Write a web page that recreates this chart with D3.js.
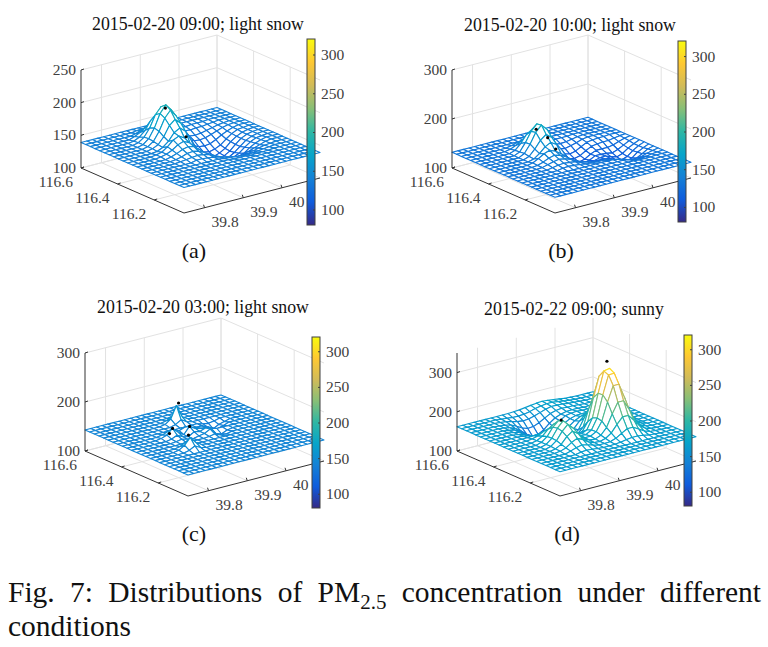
<!DOCTYPE html>
<html>
<head>
<meta charset="utf-8">
<script src="https://cdn.jsdelivr.net/npm/d3@7"></script>
<style>
  body { margin: 0; background: #fff; }
  svg { display: block; }
  text { font-family: "Liberation Serif", serif; }
</style>
</head>
<body>
<div id="chart"></div>
<script>
// grid size of every surface, rows run along longitude, columns along latitude
const gridRows = 23;
const gridCols = 25;

const parula = ["#352a87", "#0f5cdd", "#1481d6", "#06a4ca", "#2eb7a4", "#87bf77", "#d1bb59", "#fec832", "#f9fb0e"];
const colorTicks = [100, 150, 200, 250, 300];
const lonTicks = [116.6, 116.4, 116.2];
const latTicks = [39.8, 39.9, 40];

const titles = ["2015-02-20 09:00; light snow", "2015-02-20 10:00; light snow", "2015-02-20 03:00; light snow", "2015-02-22 09:00; sunny"];
const subLabels = ["(a)", "(b)", "(c)", "(d)"];
const zTicks = [[100, 150, 200, 250], [100, 200, 300], [100, 200, 300], [100, 200, 300]];
const zTops = [250, 300, 300, 350];
const surfaceBases = [139, 132, 143, 162];

// surface values that differ from the base: [row, first column, values]
const surfaceA = [
  [1, 9, [140, 141, 140]],
  [2, 8, [141, 144, 145, 144, 141]],
  [3, 7, [142, 146, 152, 155, 152, 145, 140, 138, 138, 137, 138, 138, 138, 139]],
  [4, 6, [140, 144, 152, 165, 171, 165, 151, 141, 136, 136, 135, 136, 136, 137, 138]],
  [5, 6, [141, 147, 159, 177, 187, 178, 157, 142, 133, 131, 130, 131, 133, 135, 137, 138]],
  [6, 6, [141, 148, 162, 182, 193, 183, 159, 140, 130, 127, 126, 127, 130, 133, 136, 138]],
  [7, 6, [141, 147, 160, 178, 188, 177, 156, 136, 125, 121, 120, 121, 125, 130, 134, 137]],
  [8, 6, [141, 145, 155, 170, 177, 169, 149, 132, 120, 116, 114, 116, 120, 127, 133, 137, 138]],
  [9, 6, [140, 144, 151, 162, 167, 160, 144, 129, 118, 113, 110, 113, 118, 126, 132, 136, 138]],
  [10, 5, [140, 142, 148, 156, 160, 155, 144, 133, 125, 117, 111, 109, 112, 117, 125, 132, 136, 138]],
  [11, 5, [140, 142, 146, 152, 155, 151, 142, 133, 125, 118, 113, 110, 113, 118, 125, 132, 136, 138]],
  [12, 6, [141, 144, 148, 150, 148, 141, 133, 127, 120, 116, 114, 116, 120, 127, 133, 137, 138]],
  [13, 6, [140, 142, 145, 146, 144, 140, 135, 129, 123, 120, 119, 120, 123, 129, 134, 137]],
  [14, 6, [140, 141, 142, 143, 142, 140, 136, 132, 129, 126, 125, 126, 129, 132, 135, 138]],
  [15, 8, [141, 141, 140, 139, 137, 135, 133, 131, 130, 131, 133, 135, 137, 138]],
  [16, 12, [138, 137, 136, 135, 134, 135, 136, 137, 138]],
  [17, 13, [138, 138, 138, 137, 138, 138, 138]]
];
const surfaceB = [
  [3, 8, [134, 137, 138, 137, 134]],
  [4, 7, [134, 139, 146, 150, 146, 139, 133, 131, 131, 131, 131]],
  [5, 7, [136, 147, 162, 170, 162, 146, 134, 127, 126, 127, 129, 131]],
  [6, 7, [137, 153, 173, 185, 174, 152, 132, 123, 120, 123, 126, 130]],
  [7, 7, [138, 154, 175, 187, 175, 150, 129, 116, 113, 116, 122, 128, 130, 131, 131]],
  [8, 7, [136, 148, 163, 172, 163, 144, 124, 111, 108, 111, 118, 124, 126, 127, 127, 129, 131]],
  [9, 7, [135, 143, 154, 160, 153, 138, 120, 109, 105, 108, 115, 120, 120, 120, 122, 126, 130]],
  [10, 6, [134, 140, 147, 151, 146, 138, 127, 117, 110, 107, 110, 116, 116, 115, 113, 117, 123, 129]],
  [11, 6, [133, 137, 142, 145, 142, 136, 128, 120, 114, 111, 113, 116, 117, 112, 109, 113, 121, 127]],
  [12, 6, [133, 136, 139, 141, 139, 135, 129, 124, 119, 117, 118, 119, 116, 110, 107, 111, 120, 127]],
  [13, 7, [134, 136, 137, 136, 134, 130, 128, 125, 123, 123, 121, 116, 111, 108, 112, 121, 127]],
  [14, 8, [134, 135, 134, 133, 131, 130, 129, 129, 127, 125, 121, 116, 113, 116, 122, 129]],
  [15, 17, [130, 127, 123, 121, 123, 127, 130]],
  [16, 18, [130, 128, 127, 128, 130, 131]],
  [17, 19, [131, 131, 131]]
];
const surfaceC = [
  [4, 11, [145, 151, 146]],
  [5, 10, [145, 153, 178, 152, 145]],
  [6, 11, [146, 153, 146]],
  [7, 15, [140, 138, 140]],
  [8, 7, [145, 149, 145, 145, 149, 145]],
  [8, 15, [138, 131, 137, 140]],
  [9, 6, [145, 149, 160, 149, 141, 155, 148, 145]],
  [9, 15, [140, 136, 139]],
  [10, 7, [145, 150, 144, 141, 148, 146, 150, 146]],
  [11, 7, [144, 146, 143, 141, 144, 146, 152, 140, 136, 141]],
  [12, 12, [144, 146, 141, 140]],
  [13, 6, [145, 151, 146]],
  [14, 5, [145, 152, 165, 152, 145]],
  [15, 6, [146, 152, 146]]
];
const surfaceD = [
  [0, 10, [163, 164, 166, 168, 170, 171, 170, 168, 166, 164, 163]],
  [1, 7, [160, 159, 157, 157, 158, 161, 165, 168, 170, 170, 168, 166, 164, 163]],
  [2, 6, [161, 159, 156, 152, 150, 151, 155, 160, 165, 168, 168, 167, 165, 164, 163]],
  [3, 5, [161, 159, 156, 149, 141, 136, 137, 143, 151, 159, 163, 165, 164, 164, 163]],
  [4, 5, [161, 158, 152, 142, 130, 122, 122, 130, 143, 153, 159, 162, 163, 163]],
  [5, 5, [160, 157, 149, 136, 120, 110, 110, 120, 137, 151, 160, 163, 164, 163, 163]],
  [6, 5, [160, 156, 148, 133, 116, 105, 105, 116, 136, 150, 158, 162, 163, 163, 163]],
  [7, 5, [160, 157, 149, 136, 120, 110, 110, 119, 134, 147, 158, 165, 168, 166, 164, 163]],
  [8, 5, [161, 158, 155, 146, 133, 123, 123, 127, 136, 146, 162, 175, 179, 174, 167, 164]],
  [9, 5, [162, 163, 164, 161, 150, 140, 138, 136, 139, 149, 175, 199, 204, 192, 175, 166, 163]],
  [10, 5, [164, 168, 176, 180, 169, 156, 153, 150, 147, 161, 204, 243, 249, 222, 189, 171, 165]],
  [11, 5, [165, 173, 187, 196, 184, 167, 162, 155, 158, 180, 238, 289, 293, 252, 202, 175, 166]],
  [12, 5, [166, 177, 197, 210, 197, 176, 166, 162, 168, 195, 254, 307, 310, 262, 206, 177, 166]],
  [13, 5, [166, 178, 200, 215, 200, 178, 166, 165, 173, 200, 255, 302, 303, 258, 204, 176, 166]],
  [14, 5, [166, 177, 197, 211, 197, 177, 166, 166, 174, 197, 242, 280, 280, 242, 197, 174, 166]],
  [15, 5, [165, 173, 189, 199, 189, 173, 165, 164, 170, 186, 217, 243, 243, 217, 186, 170, 164]],
  [16, 5, [164, 169, 179, 186, 179, 169, 164, 163, 167, 177, 195, 211, 211, 195, 177, 167, 163]],
  [17, 6, [166, 171, 174, 171, 166, 163, 163, 164, 169, 178, 186, 186, 178, 169, 164, 163]],
  [18, 7, [165, 166, 165, 163, 162, 162, 163, 164, 167, 169, 169, 167, 164, 163]]
];
const surfaces = [surfaceA, surfaceB, surfaceC, surfaceD];

// stations: longitude, latitude, PM2.5
const stationsA = [[116.448, 39.893, 188], [116.335, 39.893, 158]];
const stationsB = [[116.449, 39.893, 174], [116.386, 39.893, 167], [116.342, 39.893, 151]];
const stationsC = [[116.472, 39.928, 182], [116.369, 39.864, 160], [116.369, 39.856, 151], [116.369, 39.908, 155], [116.242, 39.845, 171]];
const stationsD = [[116.293, 39.989, 330], [116.268, 39.859, 218]];
const stations = [stationsA, stationsB, stationsC, stationsD];

// layout of the panels
const panelX = [81, 452, 85, 457];      // left corner of the floor
const panelY = [168, 168, 451, 451];
const barX = [307, 678, 312, 684];
const barTop = [39, 41, 337, 335];
const barBottom = [225, 222, 508, 506];
const titleX = [198, 570, 203, 574];
const titleY = [30, 31, 313, 315];
const labelX = [194, 561, 194, 567];
const labelY = [258, 258, 541, 541];
const uVec = [103, 45];
const vVec = [136, -35];
const wallHeight = 98;

const width = 768;
const height = 647;

const svg = d3.select("#chart").append("svg").attr("width", width).attr("height", height);

const colorScale = d3.scaleLinear()
  .domain(parula.map((c, i) => 80 + 240 * i / (parula.length - 1)))
  .range(parula)
  .clamp(true);

const lonScale = d3.scaleLinear().domain([116.6, 116.037]).range([0, 1]);
const latScale = d3.scaleLinear().domain([39.747, 40.098]).range([0, 1]);
const rowScale = d3.scaleLinear().domain([0, gridRows - 1]).range(lonScale.domain());
const colScale = d3.scaleLinear().domain([0, gridCols - 1]).range(latScale.domain());

const gridColor = "#e2e2e2";
const axisColor = "#333";
const textColor = "#404040";

const defs = svg.append("defs");
defs.append("linearGradient")
  .attr("id", "parula")
  .attr("x1", 0).attr("y1", 1).attr("x2", 0).attr("y2", 0)
  .selectAll("stop")
  .data(parula)
  .enter()
  .append("stop")
  .attr("offset", (d, i) => i / (parula.length - 1))
  .attr("stop-color", d => d);

function drawPanel(p) {
  const g = svg.append("g");
  const zTop = zTops[p];
  const zScale = d3.scaleLinear().domain([100, zTop]).range([0, wallHeight]);

  const project = (lon, lat, z) => {
    const u = lonScale(lon);
    const v = latScale(lat);
    return [
      panelX[p] + u * uVec[0] + v * vVec[0],
      panelY[p] + u * uVec[1] + v * vVec[1] - zScale(z)
    ];
  };
  const line = pts => "M" + pts.map(d => d.join(",")).join("L");

  const [lonA, lonB] = lonScale.domain();
  const [latA, latB] = latScale.domain();

  // back walls and floor grid
  const grid = g.append("g").attr("fill", "none").attr("stroke", gridColor).attr("stroke-width", 1);
  zTicks[p].forEach(z => {
    grid.append("path").attr("d", line([project(lonA, latA, z), project(lonA, latB, z), project(lonB, latB, z)]));
  });
  latTicks.forEach(lat => {
    grid.append("path").attr("d", line([project(lonB, lat, 100), project(lonA, lat, 100), project(lonA, lat, zTop)]));
  });
  lonTicks.forEach(lon => {
    grid.append("path").attr("d", line([project(lon, latA, 100), project(lon, latB, 100), project(lon, latB, zTop)]));
  });
  grid.append("path").attr("d", line([project(lonA, latB, 100), project(lonA, latB, zTop)]));

  // surface values
  const values = d3.range(gridRows).map(() => d3.range(gridCols).map(() => surfaceBases[p]));
  surfaces[p].forEach(([row, start, vals]) => {
    vals.forEach((v, k) => { values[row][start + k] = v; });
  });

  // quads back to front, white faces hide what is behind them
  const quads = [];
  d3.range(gridRows - 1).forEach(i => {
    d3.range(gridCols - 2, -1, -1).forEach(j => {
      quads.push({ i, j });
    });
  });
  const pt = (i, j) => project(rowScale(i), colScale(j), values[i][j]);
  g.append("g")
    .selectAll("path")
    .data(quads)
    .enter()
    .append("path")
    .attr("d", ({ i, j }) => line([pt(i, j), pt(i + 1, j), pt(i + 1, j + 1), pt(i, j + 1)]) + "Z")
    .attr("fill", "#fff")
    .attr("stroke", ({ i, j }) => colorScale((values[i][j] + values[i + 1][j] + values[i + 1][j + 1] + values[i][j + 1]) / 4))
    .attr("stroke-width", 1.1)
    .attr("stroke-linejoin", "round");

  // stations
  g.append("g")
    .selectAll("circle")
    .data(stations[p])
    .enter()
    .append("circle")
    .attr("cx", d => project(d[0], d[1], d[2])[0])
    .attr("cy", d => project(d[0], d[1], d[2])[1])
    .attr("r", 1.6)
    .attr("fill", "#000");

  // axes
  const axes = g.append("g").attr("fill", "none").attr("stroke", axisColor).attr("stroke-width", 1);
  axes.append("path").attr("d", line([project(lonA, latA, zTop), project(lonA, latA, 100), project(lonB, latA, 100), project(lonB, latB, 100)]));

  zTicks[p].forEach(z => {
    const [x, y] = project(lonA, latA, z);
    axes.append("path").attr("d", line([[x, y], [x + 3, y - 1]]));
    g.append("text").attr("x", x - 5).attr("y", y).attr("dy", "0.33em")
      .attr("text-anchor", "end").attr("font-size", 15.5).attr("fill", textColor).text(z);
  });
  lonTicks.forEach(lon => {
    const [x, y] = project(lon, latA, 100);
    axes.append("path").attr("d", line([[x, y], [x + 3, y - 1]]));
    g.append("text").attr("x", x - 8).attr("y", y + 14).attr("dy", "0.33em")
      .attr("text-anchor", "end").attr("font-size", 15.5).attr("fill", textColor).text(lon);
  });
  latTicks.forEach(lat => {
    const [x, y] = project(lonB, lat, 100);
    axes.append("path").attr("d", line([[x, y], [x - 1, y - 3]]));
    g.append("text").attr("x", x + 7).attr("y", y + 14).attr("dy", "0.33em")
      .attr("font-size", 15.5).attr("fill", textColor).text(lat);
  });

  // colorbar
  const barScale = d3.scaleLinear().domain([80, 320]).range([barBottom[p], barTop[p]]);
  const bar = g.append("g").attr("transform", `translate(${barX[p]},0)`);
  bar.append("rect")
    .attr("y", barTop[p])
    .attr("width", 8)
    .attr("height", barBottom[p] - barTop[p])
    .attr("fill", "url(#parula)")
    .attr("stroke", textColor)
    .attr("stroke-width", 1);
  const barAxis = bar.append("g")
    .attr("transform", "translate(8,0)")
    .call(d3.axisRight(barScale).tickValues(colorTicks).tickSize(-2).tickPadding(6));
  barAxis.select(".domain").remove();
  barAxis.selectAll("line").attr("stroke", textColor);
  barAxis.selectAll("text").attr("font-family", "Liberation Serif").attr("font-size", 15.5).attr("fill", textColor);

  // title and sub figure label
  g.append("text").attr("x", titleX[p]).attr("y", titleY[p]).attr("text-anchor", "middle")
    .attr("font-size", 17.8).attr("fill", "#111").text(titles[p]);
  g.append("text").attr("x", labelX[p]).attr("y", labelY[p]).attr("text-anchor", "middle")
    .attr("font-size", 22).attr("fill", "#111").text(subLabels[p]);
}

d3.range(4).forEach(drawPanel);

// caption, first line is justified between the margins
const captionLeft = 8;
const captionRight = 761;
const cap1 = svg.append("text").attr("x", captionLeft).attr("y", 602).attr("font-size", 29.5).attr("fill", "#111");
cap1.append("tspan").text("Fig. 7: Distributions of PM");
cap1.append("tspan").attr("dy", 7).attr("font-size", 21).text("2.5");
cap1.append("tspan").attr("dy", -7).text(" concentration under different");
const spare = captionRight - captionLeft - cap1.node().getComputedTextLength();
cap1.style("word-spacing", `${spare / 7}px`);
svg.append("text").attr("x", captionLeft).attr("y", 636).attr("font-size", 29.5).attr("fill", "#111").text("conditions");
</script>
</body>
</html>
